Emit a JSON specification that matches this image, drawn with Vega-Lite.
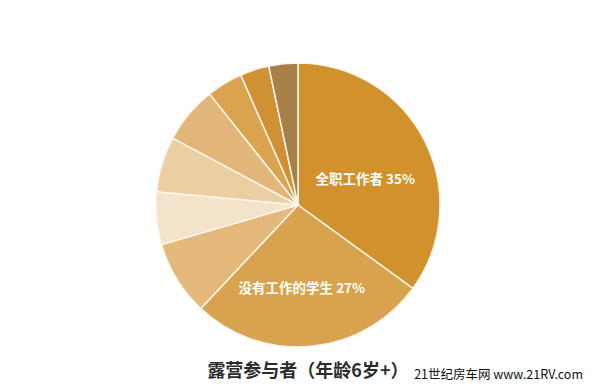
{
  "$schema": "https://vega.github.io/schema/vega-lite/v6.json",
  "background": "white",
  "padding": {"left": 0, "top": 55, "right": 0, "bottom": 0},
  "config": {"view": {"stroke": null}, "font": "Noto Sans CJK SC"},
  "title": {
    "text": "21世纪房车网 www.21RV.com",
    "orient": "bottom",
    "anchor": "end",
    "font": "Noto Sans CJK SC",
    "fontSize": 12.5,
    "fontWeight": "normal",
    "color": "#111111",
    "offset": 0,
    "dx": -13,
    "dy": -12
  },
  "vconcat": [
    {
      "width": 596,
      "height": 300,
      "title": {
        "text": "露营参与者（年龄6岁+）",
        "orient": "bottom",
        "anchor": "middle",
        "font": "Noto Sans CJK SC",
        "fontSize": 18,
        "fontWeight": "bold",
        "color": "#2b2b2b",
        "offset": 8,
        "dx": 10
      },
      "data": {
        "values": [
          {"idx": 1, "cat": "全职工作者", "pct": 35, "label": "全职工作者 35%"},
          {"idx": 2, "cat": "没有工作的学生", "pct": 27, "label": "没有工作的学生 27%"},
          {"idx": 3, "cat": "其他3", "pct": 8.5, "label": ""},
          {"idx": 4, "cat": "其他4", "pct": 6, "label": ""},
          {"idx": 5, "cat": "其他5", "pct": 6.3, "label": ""},
          {"idx": 6, "cat": "其他6", "pct": 6.5, "label": ""},
          {"idx": 7, "cat": "其他7", "pct": 4.1, "label": ""},
          {"idx": 8, "cat": "其他8", "pct": 3.3, "label": ""},
          {"idx": 9, "cat": "其他9", "pct": 3.3, "label": ""}
        ]
      },
      "encoding": {
        "theta": {"field": "pct", "type": "quantitative", "stack": true},
        "order": {"field": "idx", "type": "quantitative"}
      },
      "layer": [
        {
          "mark": {"type": "arc", "outerRadius": 142, "stroke": "#fbf6ec", "strokeWidth": 1.5},
          "encoding": {
            "color": {
              "field": "cat",
              "type": "nominal",
              "legend": null,
              "scale": {
                "domain": ["全职工作者", "没有工作的学生", "其他3", "其他4", "其他5", "其他6", "其他7", "其他8", "其他9"],
                "range": ["#D1922E", "#D9A24F", "#E3B87A", "#F2E3CA", "#EBCFA3", "#E2B678", "#D9A350", "#CF9133", "#A97F48"]
              }
            }
          }
        },
        {
          "mark": {"type": "text", "radius": 72, "color": "white", "fontSize": 13.5, "fontWeight": "bold", "dx": 3, "dy": 8},
          "encoding": {
            "text": {"condition": {"test": "datum.idx === 1", "field": "label"}, "value": ""}
          }
        },
        {
          "mark": {"type": "text", "radius": 83, "color": "white", "fontSize": 13.5, "fontWeight": "bold", "dx": -4, "dy": 1},
          "encoding": {
            "text": {"condition": {"test": "datum.idx === 2", "field": "label"}, "value": ""}
          }
        }
      ]
    }
  ]
}
